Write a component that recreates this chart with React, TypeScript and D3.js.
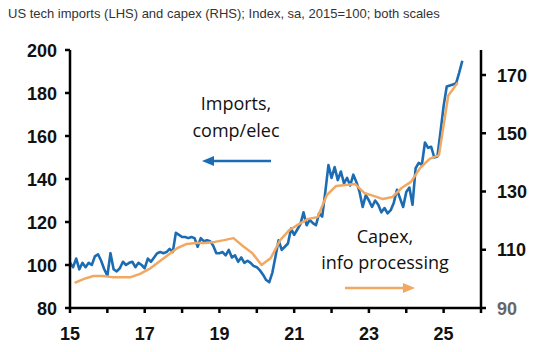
import React from "react";
import * as d3 from "d3";

const title = "US tech imports (LHS) and capex (RHS); Index, sa, 2015=100; both scales";

// Monthly, Jan 2015 onward (LHS)
const importsValues = [
  101, 99, 103, 98, 101, 99, 101, 100, 104, 105, 102, 98,
  95, 105.5, 98, 97, 98.5, 101.5, 100, 101, 101.5, 99, 101, 100,
  98.5, 103, 101.5, 103.5, 105.5, 106, 105.5, 106, 107.5, 106, 115, 114,
  113, 113, 112.5, 113, 112.5, 108.5, 112.5, 111, 111.5, 111, 109, 105.5,
  105.5, 106, 104.5, 107, 103.5, 104.5, 101.5, 103.5, 101, 102, 101, 99.5,
  99, 97.5, 95.5, 93, 92, 96.5, 104, 111.5, 107, 108.5, 110, 117,
  114, 116.5, 119, 124.5, 118.5, 121, 119.5, 118.5, 124, 122.5, 134, 146.5,
  140.5, 145.5, 139.5, 143.5, 138, 140.5, 137, 142, 138.5, 134, 127, 132.5,
  130, 127, 130, 128, 124.5, 126.5, 124, 125.5, 129, 135, 131, 127,
  134, 136, 128, 145, 147.5, 146.5, 157, 154.5, 155, 150, 150.5, 162,
  174, 183, 183.5, 184, 184.5, 189.5, 195,
];

// Quarterly, Q1 2015 onward (RHS)
const capexValues = [
  98.6, 100, 101, 101, 100.6, 100.6, 100.6, 101.7, 103.4, 105.8, 108.2, 110.6,
  112, 112.3, 112.3, 112.7, 113.3, 114, 111.3, 108.9, 104.8, 107.2, 113.3, 116.8,
  118.8, 120.6, 121.2, 128.8, 131.9, 132.2, 132.6, 129.5, 128.5, 127.4, 128.1, 131.2,
  133.3, 138.1, 141.2, 142.5, 163, 167.3,
];

const xTickYears = [2015, 2016, 2017, 2018, 2019, 2020, 2021, 2022, 2023, 2024, 2025, 2026];
const xLabelYears = [2015, 2017, 2019, 2021, 2023, 2025];
const leftTicks = [80, 100, 120, 140, 160, 180, 200];
const rightTicks = [90, 110, 130, 150, 170];

const W = 551, H = 352;
const L = 70, R = 481, T = 50, B = 308;
const BLUE = "#1b6cb3";
const ORANGE = "#f0a862";
const labelFont = "'Liberation Sans', Arial, sans-serif";
const annoFont = "'Open Sans', 'Noto Sans', sans-serif";

export default function App() {
  const x = d3.scaleLinear().domain([2015, 2026]).range([L, R]);
  const yL = d3.scaleLinear().domain([80, 200]).range([B, T]);
  // right scale: 20 units = 58.25px
  const yR = d3.scaleLinear().domain([90, 90 + ((B - T) * 20) / 58.25]).range([B, T]);

  const importsLine = d3
    .line<number>()
    .x((_, i) => x(2015 + i / 12))
    .y((d) => yL(d));
  const capexLine = d3
    .line<number>()
    .x((_, i) => x(2015.125 + i / 4))
    .y((d) => yR(d));

  return (
    <svg
      width={W}
      height={H}
      viewBox={`0 0 ${W} ${H}`}
      style={{ position: "absolute", left: 0, top: 0, background: "#fff" }}
    >
      <rect x={0} y={0} width={W} height={H} fill="#fff" />
      <text x={8} y={18} fontFamily={labelFont} fontSize={13} fill="#333">
        {title}
      </text>

      {/* series */}
      <path d={importsLine(importsValues) || ""} fill="none" stroke={BLUE} strokeWidth={2.6} strokeLinejoin="round" />
      <path d={capexLine(capexValues) || ""} fill="none" stroke={ORANGE} strokeWidth={2.5} strokeLinejoin="round" />

      {/* axes */}
      <line x1={L} x2={L} y1={T} y2={B} stroke="#000" strokeWidth={2.5} />
      <line x1={R} x2={R} y1={T} y2={B} stroke="#000" strokeWidth={2.5} />
      <line x1={L} x2={R} y1={B} y2={B} stroke="#000" strokeWidth={2.5} />

      {xTickYears.map((yr) => (
        <line key={"xt" + yr} x1={x(yr)} x2={x(yr)} y1={B} y2={B + 5} stroke="#000" strokeWidth={2.5} />
      ))}
      {xLabelYears.map((yr) => (
        <text
          key={"xl" + yr}
          x={x(yr)}
          y={340}
          textAnchor="middle"
          fontFamily={labelFont}
          fontWeight="bold"
          fontSize={18}
          fill="#111"
        >
          {String(yr).slice(2)}
        </text>
      ))}

      {leftTicks.map((v) => (
        <g key={"lt" + v}>
          <line x1={L - 5} x2={L} y1={yL(v)} y2={yL(v)} stroke="#000" strokeWidth={2.5} />
          <text
            x={L - 13}
            y={yL(v) + 6.5}
            textAnchor="end"
            fontFamily={labelFont}
            fontWeight="bold"
            fontSize={18}
            fill="#111"
          >
            {v}
          </text>
        </g>
      ))}

      {rightTicks.map((v) => (
        <g key={"rt" + v}>
          <line x1={R} x2={R + 5} y1={yR(v)} y2={yR(v)} stroke="#000" strokeWidth={2.5} />
          <text
            x={R + 16}
            y={yR(v) + 6.5}
            textAnchor="start"
            fontFamily={labelFont}
            fontWeight="bold"
            fontSize={18}
            fill={v === 90 ? "#666" : "#111"}
          >
            {v}
          </text>
        </g>
      ))}

      {/* annotations */}
      <text x={236} y={110} textAnchor="middle" fontFamily={annoFont} fontSize={18} fill="#111">
        Imports,
      </text>
      <text x={236} y={137} textAnchor="middle" fontFamily={annoFont} fontSize={18} fill="#111">
        comp/elec
      </text>
      <line x1={212} x2={271} y1={161} y2={161} stroke={BLUE} strokeWidth={2.5} />
      <path d="M202,161 L214,156 L214,166 Z" fill={BLUE} />

      <text x={385} y={243} textAnchor="middle" fontFamily={annoFont} fontSize={18} fill="#111">
        Capex,
      </text>
      <text x={385} y={269} textAnchor="middle" fontFamily={annoFont} fontSize={18} fill="#111">
        info processing
      </text>
      <line x1={345} x2={404} y1={288} y2={288} stroke={ORANGE} strokeWidth={2.5} />
      <path d="M415,288 L403,283 L403,293 Z" fill={ORANGE} />
    </svg>
  );
}
